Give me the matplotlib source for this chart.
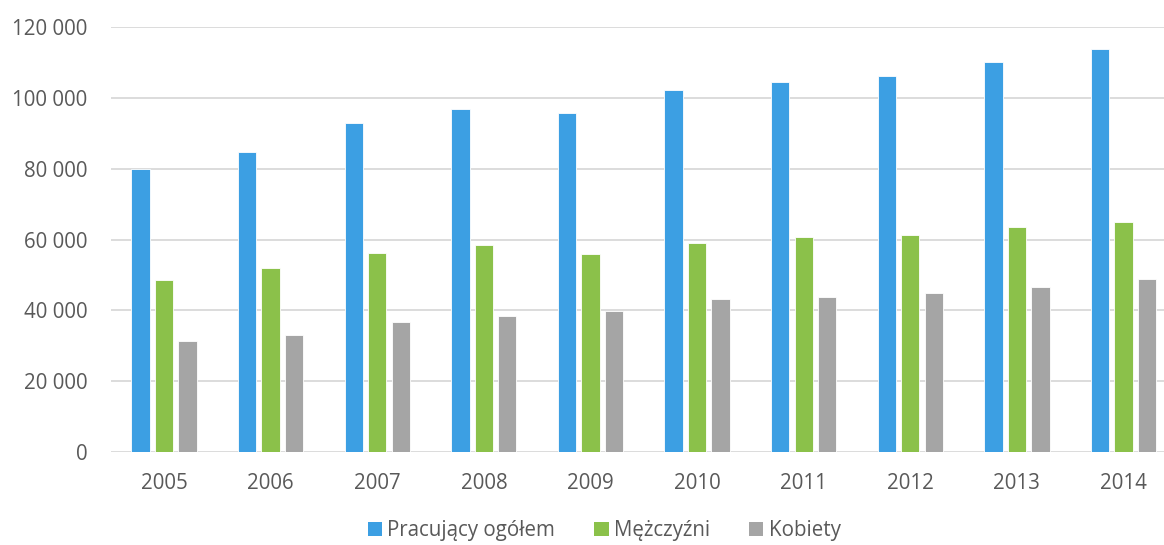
import numpy as np
import matplotlib
matplotlib.use("Agg")
import matplotlib.pyplot as plt
from matplotlib.patches import Patch
from matplotlib.ticker import FuncFormatter

years = ["2005", "2006", "2007", "2008", "2009", "2010", "2011", "2012", "2013", "2014"]
ogolem = [80000, 84800, 92900, 97000, 95900, 102300, 104400, 106200, 110200, 113800]
mezczyzni = [48600, 51900, 56100, 58500, 56000, 59100, 60700, 61400, 63500, 65000]
kobiety = [31400, 33000, 36800, 38500, 39900, 43100, 43700, 44800, 46700, 48800]

series_names = ["Pracujący ogółem", "Mężczyźni", "Kobiety"]
COLORS = ["#3C9FE3", "#8BC14A", "#A5A5A5"]
TEXT = "#595959"

plt.rcParams["font.family"] = ["Open Sans", "DejaVu Sans"]

fig = plt.figure(figsize=(11.64, 5.45), dpi=100)
ax = fig.add_axes([0.0954, 0.1706, 0.9046, 0.7794])

x = np.arange(len(years))
step = 0.22
width = 0.172
for i, vals in enumerate([ogolem, mezczyzni, kobiety]):
    ax.bar(x + (i - 1) * step, vals, width=width, color=COLORS[i],
           edgecolor="white", linewidth=0.6, zorder=3)

ax.set_xlim(-0.497, 9.38)
ax.set_ylim(0, 120000)
ax.set_yticks(range(0, 120001, 20000))
ax.yaxis.set_major_formatter(FuncFormatter(lambda v, p: f"{v:,.0f}".replace(",", " ")))
ax.set_xticks(x)
ax.set_xticklabels(years)

ax.grid(axis="y", color="#D9D9D9", linewidth=1.3, zorder=0)
for s in ax.spines.values():
    s.set_visible(False)
ax.tick_params(axis="both", length=0, labelsize=14.8, colors=TEXT)
ax.tick_params(axis="x", pad=15)
ax.tick_params(axis="y", pad=17)

# legend sits at the very bottom, nudged up just enough to stay inside
handles = [Patch(facecolor=c, edgecolor="none") for c in COLORS]
fig.legend(handles, series_names, loc="center", bbox_to_anchor=(0.519, 0.026),
           ncol=3, frameon=False, fontsize=14.8, labelcolor=TEXT,
           handlelength=0.7, handleheight=0.7, handletextpad=0.25,
           columnspacing=1.9, borderpad=0.1)

fig.savefig("out.png", dpi=100)
